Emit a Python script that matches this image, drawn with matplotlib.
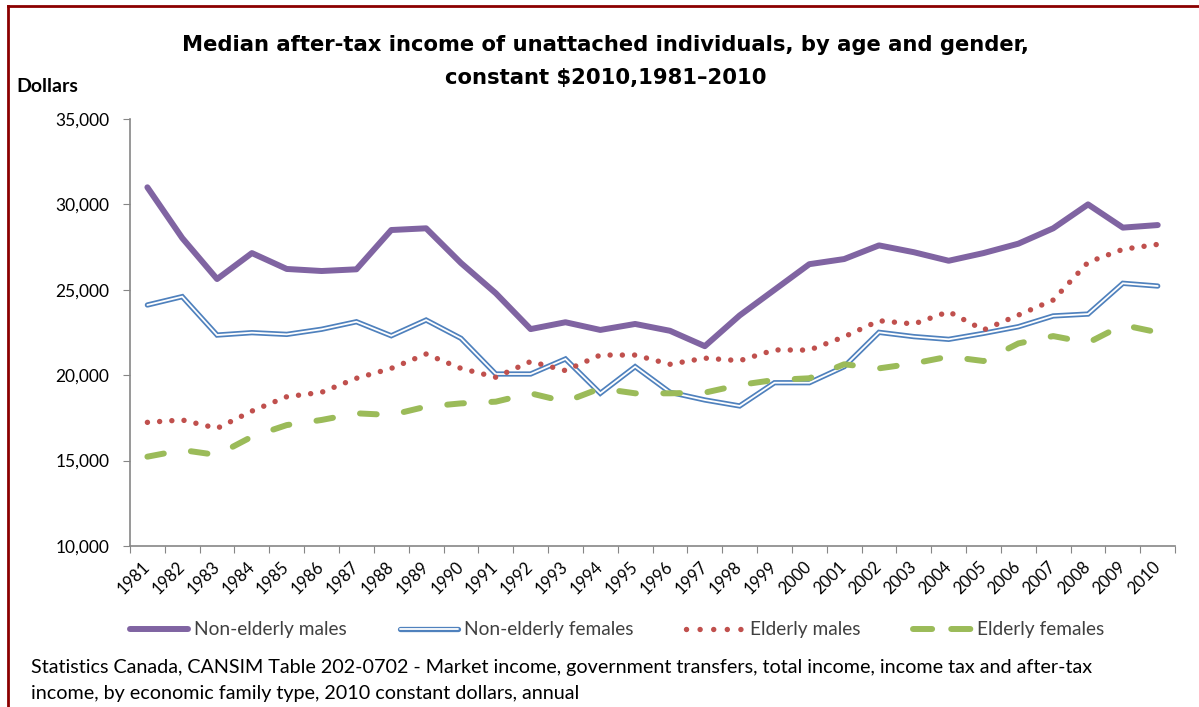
import matplotlib.pyplot as plt
import matplotlib.patheffects as pe
from matplotlib.lines import Line2D
from matplotlib.ticker import FixedLocator, FuncFormatter

years = [str(y) for y in range(1981, 2011)]

non_elderly_males = [31000, 28030, 25630, 27150, 26220, 26100, 26200, 28500, 28600, 26570,
                     24800, 22700, 23100, 22650, 23000, 22600, 21700, 23500, 25000, 26500,
                     26800, 27600, 27200, 26700, 27150, 27700, 28600, 30000, 28640, 28790]
non_elderly_females = [24110, 24600, 22350, 22490, 22390, 22690, 23130, 22310, 23230, 22160,
                       20070, 20070, 20950, 18940, 20500, 19000, 18550, 18200, 19560, 19560,
                       20500, 22510, 22260, 22100, 22450, 22840, 23470, 23580, 25380, 25220]
elderly_males = [17240, 17380, 16890, 17900, 18740, 19000, 19820, 20400, 21240, 20400,
                 19880, 20800, 20270, 21180, 21180, 20640, 21000, 20850, 21480, 21470,
                 22250, 23190, 23000, 23720, 22650, 23520, 24400, 26610, 27370, 27660]
elderly_females = [15230, 15620, 15330, 16400, 17080, 17380, 17770, 17670, 18160, 18350,
                   18450, 18940, 18450, 19230, 18940, 18940, 18980, 19430, 19720, 19820,
                   20640, 20400, 20690, 21090, 20830, 21860, 22290, 21900, 22940, 22510]

labels = ["Non-elderly males", "Non-elderly females", "Elderly males", "Elderly females"]

purple = "#8064A2"
blue = "#4F81BD"
red = "#C0504D"
green = "#9BBB59"
axis_grey = "#868686"

plt.rcParams['font.family'] = ['Lato', 'DejaVu Sans']

fig = plt.figure(figsize=(11.99, 7.07), dpi=100)
ax = fig.add_axes([0.1084, 0.2277, 0.8717, 0.604])

x = list(range(len(years)))

# line styles: solid purple, blue double line, red dots, green long dashes
styles = [
    dict(color=purple, lw=4.3, solid_capstyle="round", solid_joinstyle="round"),
    dict(color="white", lw=1.3, solid_capstyle="round", solid_joinstyle="miter",
         path_effects=[pe.Stroke(linewidth=3.8, foreground=blue), pe.Normal()]),
    dict(color=red, lw=3.9, linestyle=(0, (0.01, 2.25)), dash_capstyle="round"),
    dict(color=green, lw=4.3, linestyle=(0, (2.8, 4.6)), dash_capstyle="round"),
]
series = [non_elderly_males, non_elderly_females, elderly_males, elderly_females]

for vals, st in zip(series, styles):
    ax.plot(x, vals, zorder=3, **st)

ax.set_xlim(-0.5, len(years) - 0.5)
ax.set_ylim(10000, 35000)
ax.set_yticks(range(10000, 35001, 5000))
ax.yaxis.set_major_formatter(FuncFormatter(lambda v, p: f"{int(v):,}"))

ax.xaxis.set_major_locator(FixedLocator([i - 0.5 for i in range(len(years) + 1)]))
ax.xaxis.set_major_formatter(FuncFormatter(lambda v, p: ""))
ax.xaxis.set_minor_locator(FixedLocator(x))
ax.set_xticklabels(years, minor=True, rotation=45, ha="right", va="center",
                   rotation_mode="anchor", fontsize=12, color="#000000")
ax.tick_params(axis="x", which="minor", length=0, pad=13)
ax.tick_params(axis="x", which="major", length=5, color=axis_grey, direction="out")
ax.tick_params(axis="y", length=5, color=axis_grey, pad=10, labelsize=12.5, labelcolor="#000000")

for side in ("top", "right"):
    ax.spines[side].set_visible(False)
for side in ("left", "bottom"):
    ax.spines[side].set_color(axis_grey)
    ax.spines[side].set_linewidth(1.2)

fig.text(0.505, 0.937, "Median after-tax income of unattached individuals, by age and gender,",
         ha="center", va="center", fontsize=15.2, fontweight="bold", family="DejaVu Sans")
fig.text(0.505, 0.89, "constant $2010,1981\u20132010",
         ha="center", va="center", fontsize=15.2, fontweight="bold", family="DejaVu Sans")
fig.text(0.0135, 0.877, "Dollars", ha="left", va="center", fontsize=14, fontweight="bold")

# one legend per entry so each sits at its own x position
leg_x = [130, 400, 686, 913]
leg_y = 1 - 630 / 707
legend_styles = [
    dict(color=purple, lw=4.3, solid_capstyle="round"),
    dict(color="white", lw=1.3, solid_capstyle="round",
         path_effects=[pe.Stroke(linewidth=3.8, foreground=blue), pe.Normal()]),
    dict(color=red, lw=3.9, linestyle=(0, (0.01, 2.5)), dash_capstyle="round"),
    dict(color=green, lw=4.3, linestyle=(0, (3.2, 3.2)), dash_capstyle="round"),
]
for px, lab, st in zip(leg_x, labels, legend_styles):
    leg = fig.legend([Line2D([], [], **st)], [lab], loc="center left",
                     bbox_to_anchor=(px / 1199, leg_y), frameon=False, borderpad=0,
                     borderaxespad=0, fontsize=13.8, handlelength=3.05, handletextpad=0.3)
    leg.get_texts()[0].set_color("#404040")

fig.text(0.026, 0.056, "Statistics Canada, CANSIM Table 202-0702 - Market income, government transfers, "
         "total income, income tax and after-tax", ha="left", va="center", fontsize=14.2)
fig.text(0.026, 0.019, "income, by economic family type, 2010 constant dollars, annual",
         ha="left", va="center", fontsize=14.2)

# dark red frame along the top and left edges
border = "#8B0000"
fig.add_artist(Line2D([0.0067, 1.0], [0.9915, 0.9915], color=border, lw=2, transform=fig.transFigure))
fig.add_artist(Line2D([0.0067, 0.0067], [0.0, 0.9915], color=border, lw=2, transform=fig.transFigure))

fig.savefig("out.png", dpi=100)
